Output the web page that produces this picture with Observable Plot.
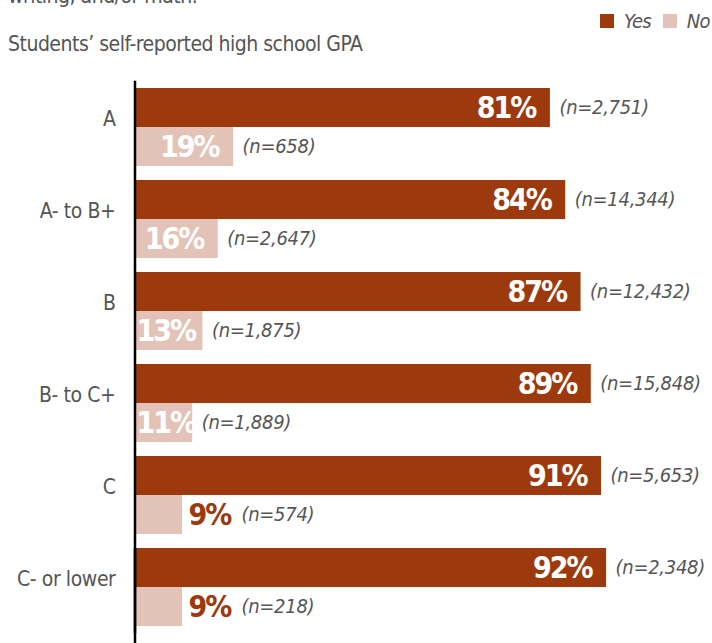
<!DOCTYPE html>
<html>
<head>
<meta charset="utf-8">
<script src="https://cdn.jsdelivr.net/npm/d3@7"></script>
<script src="https://cdn.jsdelivr.net/npm/@observablehq/plot@0.6"></script>
<style>
  html, body { margin: 0; padding: 0; background: #fff; }
  body { width: 712px; height: 643px; overflow: hidden; position: relative;
         font-family: "Liberation Sans Narrow", "DejaVu Sans Condensed", "Liberation Sans", sans-serif; color: #555; }
  #top { position: absolute; left: 8px; top: -14px; font-size: 21px; line-height: 21px; white-space: nowrap; letter-spacing: -0.5px; }
  #sub { position: absolute; left: 8px; top: 34px; font-size: 21px; line-height: 21px; white-space: nowrap; letter-spacing: -0.5px; }
  #legend { position: absolute; left: 600px; top: 10px; font-size: 20px; line-height: 22px; font-style: italic; white-space: nowrap; display: flex; align-items: center; letter-spacing: -0.8px; }
  #legend .sw { display: inline-block; width: 14px; height: 14px; margin-right: 10px; }
  #legend .lab { margin-right: 12px; }
  #chart { position: absolute; left: 0; top: 75px; }
  #chart g[font-size="30"] { letter-spacing: -2px; }
  #chart g[font-size="20"] { letter-spacing: -0.3px; }
  #chart g[font-size="21"] { letter-spacing: -0.4px; }
</style>
</head>
<body>
<div id="top">writing, and/or math.</div>
<div id="sub">Students’ self-reported high school GPA</div>
<div id="legend"></div>
<div id="chart"></div>
<script>
const categories = ["A", "A- to B+", "B", "B- to C+", "C", "C- or lower"];
const answers = ["Yes", "No"];
const yesPct = [81, 84, 87, 89, 91, 92];
const noPct = [19, 16, 13, 11, 9, 9];
const yesN = ["2,751", "14,344", "12,432", "15,848", "5,653", "2,348"];
const noN = ["658", "2,647", "1,875", "1,889", "574", "218"];
const colors = ["#9c3a0d", "#e3c3b7"];

const rows = [];
categories.forEach((c, i) => {
  rows.push({gpa: c, answer: "Yes", pct: yesPct[i], n: yesN[i]});
  rows.push({gpa: c, answer: "No", pct: noPct[i], n: noN[i]});
});
const axisRows = categories.map(c => ({gpa: c, base: 0}));
const lastRow = axisRows.slice(-1);

const font = "'Liberation Sans Narrow', 'DejaVu Sans Condensed', 'Liberation Sans', sans-serif";
const inRight = rows.filter(d => d.pct >= 15);
const inLeft = rows.filter(d => d.pct >= 10 && d.pct < 15);
const outside = rows.filter(d => d.pct < 10);
const nInside = rows.filter(d => d.pct >= 10);

const legend = document.getElementById("legend");
answers.forEach((a, i) => {
  const sw = document.createElement("span");
  sw.className = "sw"; sw.style.background = colors[i];
  const lab = document.createElement("span");
  lab.className = "lab"; lab.textContent = a;
  legend.appendChild(sw); legend.appendChild(lab);
});

const pctText = d => d.pct + "%";
const nText = d => "(n=" + d.n + ")";

const chart = Plot.plot({
  width: 712,
  height: 568,
  marginLeft: 136,
  marginRight: 65,
  marginTop: 5,
  marginBottom: 8.6,
  style: {fontFamily: font, color: "#555", background: "#fff"},
  x: {domain: [0, 100], axis: null},
  y: {domain: answers, padding: 0, axis: null},
  fy: {domain: categories, paddingInner: 0.1515, paddingOuter: 0.0758, axis: null},
  color: {domain: answers, range: colors},
  marks: [
    Plot.barX(rows, {fy: "gpa", y: "answer", x: "pct", fill: "answer"}),
    Plot.text(inRight, {fy: "gpa", y: "answer", x: "pct", text: pctText, textAnchor: "end", dx: -15,
      fill: "white", fontWeight: "bold", fontSize: 30, fontFamily: font}),
    Plot.text(inLeft, {fy: "gpa", y: "answer", frameAnchor: "left", text: pctText, textAnchor: "start", dx: 0,
      fill: "white", fontWeight: "bold", fontSize: 30, fontFamily: font}),
    Plot.text(outside, {fy: "gpa", y: "answer", x: "pct", text: pctText, textAnchor: "start", dx: 6,
      fill: colors[0], fontWeight: "bold", fontSize: 30, fontFamily: font}),
    Plot.text(nInside, {fy: "gpa", y: "answer", x: "pct", text: nText, textAnchor: "start", dx: 9,
      fill: "#555", fontStyle: "italic", fontSize: 20, fontFamily: font}),
    Plot.text(outside, {fy: "gpa", y: "answer", x: "pct", text: nText, textAnchor: "start", dx: 59,
      fill: "#555", fontStyle: "italic", fontSize: 20, fontFamily: font}),
    Plot.axisFy({anchor: "left", tickSize: 0, tickPadding: 21, fontSize: 21, dy: -8, fill: "#555", label: null, fontFamily: font}),
    Plot.ruleX(axisRows, {fy: "gpa", x: "base", stroke: "black", strokeWidth: 2.5, dx: -1.5, insetTop: -7.3, insetBottom: -7.3}),
    Plot.ruleX(lastRow, {fy: "gpa", x: "base", stroke: "black", strokeWidth: 2.5, dx: -1.5, insetTop: 0, insetBottom: -17})
  ]
});
document.getElementById("chart").appendChild(chart);
</script>
</body>
</html>
